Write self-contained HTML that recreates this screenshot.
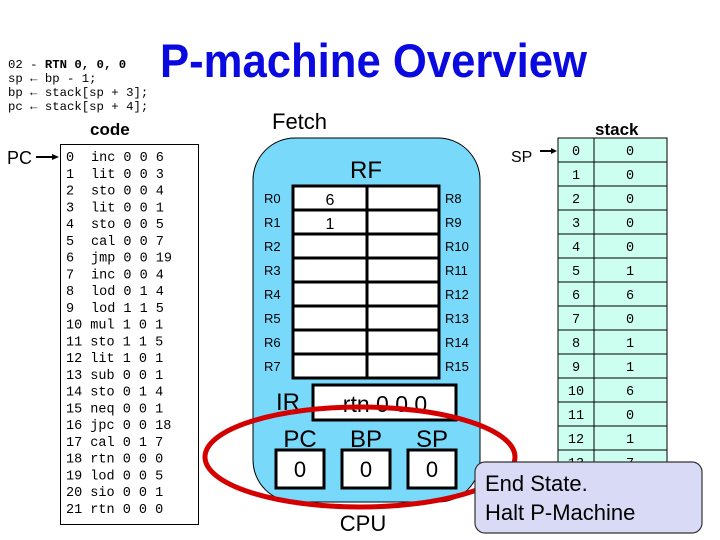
<!DOCTYPE html>
<html><head><meta charset="utf-8"><style>
body{margin:0;background:#fff}
svg{display:block}
.m{font-family:"Liberation Mono",monospace;font-size:13.5px;fill:#000}
.s{font-family:"Liberation Sans",sans-serif}
</style></head><body>
<svg width="720" height="540" viewBox="0 0 720 540" xmlns="http://www.w3.org/2000/svg">
<defs><clipPath id="st"><rect x="540" y="130" width="180" height="335"/></clipPath></defs>
<!-- header code -->
<g class="m" style="font-size:12.3px">
<text x="8" y="68">02 - <tspan font-weight="bold">RTN 0, 0, 0</tspan></text>
<text x="8" y="82">sp ← bp - 1;</text>
<text x="8" y="96">bp ← stack[sp + 3];</text>
<text x="8" y="110">pc ← stack[sp + 4];</text>
</g>
<text x="160" y="77" class="s" font-size="47" font-weight="bold" fill="#0a0ae0" textLength="427" lengthAdjust="spacingAndGlyphs">P-machine Overview</text>
<text x="272" y="129" class="s" font-size="22">Fetch</text>
<text x="90" y="135" class="s" font-size="17" font-weight="bold">code</text>
<text x="595" y="135" class="s" font-size="17" font-weight="bold">stack</text>
<!-- PC arrow -->
<text x="7" y="164" class="s" font-size="18">PC</text>
<line x1="36" y1="157" x2="54" y2="157" stroke="#000" stroke-width="2"/>
<polygon points="59,157 52,154 52,160" fill="#000"/>
<!-- code box -->
<rect x="60.5" y="144.5" width="138" height="380" fill="#fff" stroke="#000"/>
<g class="m">
<text x="66" y="161">0</text><text x="91" y="161">inc 0 0 6</text>
<text x="66" y="177.8">1</text><text x="91" y="177.8">lit 0 0 3</text>
<text x="66" y="194.5">2</text><text x="91" y="194.5">sto 0 0 4</text>
<text x="66" y="211.3">3</text><text x="91" y="211.3">lit 0 0 1</text>
<text x="66" y="228">4</text><text x="91" y="228">sto 0 0 5</text>
<text x="66" y="244.8">5</text><text x="91" y="244.8">cal 0 0 7</text>
<text x="66" y="261.6">6</text><text x="91" y="261.6">jmp 0 0 19</text>
<text x="66" y="278.3">7</text><text x="91" y="278.3">inc 0 0 4</text>
<text x="66" y="295">8</text><text x="91" y="295">lod 0 1 4</text>
<text x="66" y="311.8">9</text><text x="91" y="311.8">lod 1 1 5</text>
<text x="66" y="328.6">10 mul 1 0 1</text>
<text x="66" y="345.3">11 sto 1 1 5</text>
<text x="66" y="362">12 lit 1 0 1</text>
<text x="66" y="378.8">13 sub 0 0 1</text>
<text x="66" y="395.6">14 sto 0 1 4</text>
<text x="66" y="412.3">15 neq 0 0 1</text>
<text x="66" y="429">16 jpc 0 0 18</text>
<text x="66" y="445.8">17 cal 0 1 7</text>
<text x="66" y="462.6">18 rtn 0 0 0</text>
<text x="66" y="479.3">19 lod 0 0 5</text>
<text x="66" y="496">20 sio 0 0 1</text>
<text x="66" y="512.8">21 rtn 0 0 0</text>
</g>
<!-- CPU -->
<rect x="253" y="138" width="227" height="364" rx="42" fill="#78d9fa" stroke="#000" stroke-width="1"/>
<text x="366" y="178" class="s" font-size="24" text-anchor="middle">RF</text>
<g stroke="#000" stroke-width="3" fill="#fff">
<rect x="293" y="186" width="146" height="192"/>
<line x1="367" y1="186" x2="367" y2="378"/>
<line x1="293" y1="210" x2="439" y2="210"/>
<line x1="293" y1="234" x2="439" y2="234"/>
<line x1="293" y1="258" x2="439" y2="258"/>
<line x1="293" y1="282" x2="439" y2="282"/>
<line x1="293" y1="306" x2="439" y2="306"/>
<line x1="293" y1="330" x2="439" y2="330"/>
<line x1="293" y1="354" x2="439" y2="354"/>
</g>
<g class="s" font-size="13">
<text x="264" y="203">R0</text><text x="264" y="227">R1</text><text x="264" y="251">R2</text><text x="264" y="275">R3</text>
<text x="264" y="299">R4</text><text x="264" y="323">R5</text><text x="264" y="347">R6</text><text x="264" y="371">R7</text>
<text x="445" y="203">R8</text><text x="445" y="227">R9</text><text x="445" y="251">R10</text><text x="445" y="275">R11</text>
<text x="445" y="299">R12</text><text x="445" y="323">R13</text><text x="445" y="347">R14</text><text x="445" y="371">R15</text>
</g>
<text x="330" y="205" class="s" font-size="16" text-anchor="middle">6</text>
<text x="330" y="229" class="s" font-size="16" text-anchor="middle">1</text>
<rect x="313" y="385" width="143" height="35" fill="#fff" stroke="#000" stroke-width="3"/>
<text x="276" y="410" class="s" font-size="24">IR</text>
<text x="385" y="412" class="s" font-size="23" text-anchor="middle">rtn 0 0 0</text>
<g class="s" font-size="24" text-anchor="middle">
<text x="300" y="447">PC</text><text x="366" y="447">BP</text><text x="432" y="447">SP</text>
</g>
<g fill="#fff" stroke="#000" stroke-width="3">
<rect x="276" y="450" width="48" height="38"/><rect x="342" y="450" width="48" height="38"/><rect x="408" y="450" width="48" height="38"/>
</g>
<g class="s" font-size="22" text-anchor="middle">
<text x="300" y="477">0</text><text x="366" y="477">0</text><text x="432" y="477">0</text>
</g>
<text x="363" y="531" class="s" font-size="22" text-anchor="middle">CPU</text>
<!-- SP arrow -->
<text x="511" y="162" class="s" font-size="16">SP</text>
<line x1="540" y1="151" x2="552" y2="151" stroke="#000" stroke-width="2"/>
<polygon points="557,151 551,148 551,154" fill="#000"/>
<!-- stack -->
<g clip-path="url(#st)">
<rect x="558" y="138" width="109" height="340" fill="#ccfff0" stroke="#000"/>
<line x1="594" y1="138" x2="594" y2="478" stroke="#000"/>
<g stroke="#000">
<line x1="558" y1="162" x2="667" y2="162"/><line x1="558" y1="186" x2="667" y2="186"/><line x1="558" y1="210" x2="667" y2="210"/>
<line x1="558" y1="234" x2="667" y2="234"/><line x1="558" y1="258" x2="667" y2="258"/><line x1="558" y1="282" x2="667" y2="282"/>
<line x1="558" y1="306" x2="667" y2="306"/><line x1="558" y1="330" x2="667" y2="330"/><line x1="558" y1="354" x2="667" y2="354"/>
<line x1="558" y1="378" x2="667" y2="378"/><line x1="558" y1="402" x2="667" y2="402"/><line x1="558" y1="426" x2="667" y2="426"/>
<line x1="558" y1="450" x2="667" y2="450"/>
</g>
<g class="m" text-anchor="middle">
<text x="576" y="155">0</text><text x="630" y="155">0</text>
<text x="576" y="179">1</text><text x="630" y="179">0</text>
<text x="576" y="203">2</text><text x="630" y="203">0</text>
<text x="576" y="227">3</text><text x="630" y="227">0</text>
<text x="576" y="251">4</text><text x="630" y="251">0</text>
<text x="576" y="275">5</text><text x="630" y="275">1</text>
<text x="576" y="299">6</text><text x="630" y="299">6</text>
<text x="576" y="323">7</text><text x="630" y="323">0</text>
<text x="576" y="347">8</text><text x="630" y="347">1</text>
<text x="576" y="371">9</text><text x="630" y="371">1</text>
<text x="576" y="395">10</text><text x="630" y="395">6</text>
<text x="576" y="419">11</text><text x="630" y="419">0</text>
<text x="576" y="443">12</text><text x="630" y="443">1</text>
<text x="576" y="467">13</text><text x="630" y="467">7</text>
</g>
</g>
<!-- red ellipse -->
<ellipse cx="360" cy="457" rx="155" ry="50" fill="none" stroke="#d40000" stroke-width="5"/>
<!-- callout -->
<rect x="475" y="462" width="227" height="71" rx="10" fill="#d9daf5" stroke="#333" stroke-width="1.2"/>
<text x="485" y="491" class="s" font-size="22">End State.</text>
<text x="485" y="520" class="s" font-size="22">Halt P-Machine</text>
</svg>
</body></html>
